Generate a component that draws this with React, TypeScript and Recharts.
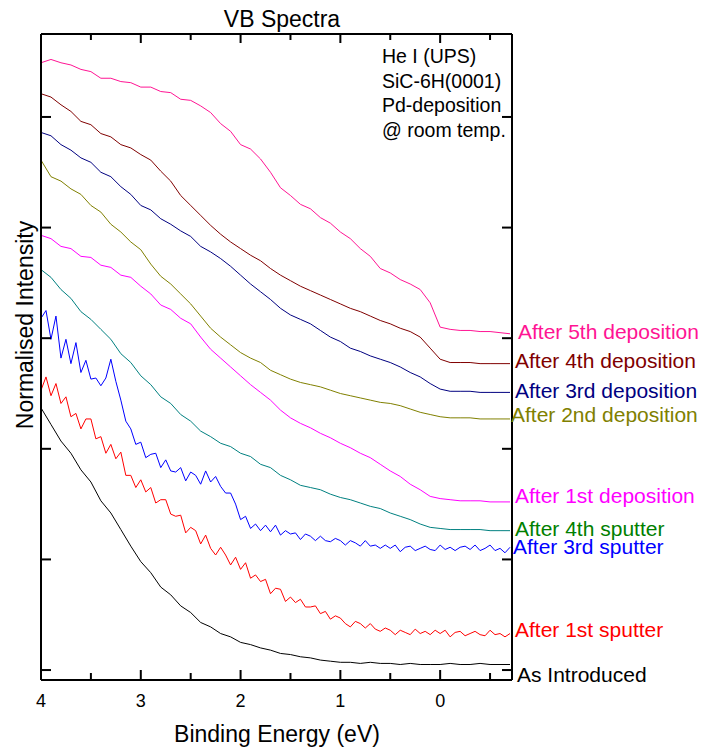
import { Line, LineChart, XAxis, YAxis } from "recharts";

// binding energy grids (eV)
const energy = [
  4.0, 3.9, 3.8, 3.7, 3.6, 3.5, 3.4, 3.3, 3.2, 3.1, 3.0, 2.9, 2.8, 2.7, 2.6, 2.5,
  2.4, 2.3, 2.2, 2.1, 2.0, 1.9, 1.8, 1.7, 1.6, 1.5, 1.4, 1.3, 1.2, 1.1, 1.0, 0.9,
  0.8, 0.7, 0.6, 0.5, 0.4, 0.3, 0.2, 0.1, 0.0, -0.1, -0.2, -0.3, -0.4, -0.5, -0.6, -0.7,
];

const energyFine = [
  4.0, 3.95, 3.9, 3.85, 3.8, 3.75, 3.7, 3.65, 3.6, 3.55, 3.5, 3.45, 3.4, 3.35, 3.3, 3.25,
  3.2, 3.15, 3.1, 3.05, 3.0, 2.95, 2.9, 2.85, 2.8, 2.75, 2.7, 2.65, 2.6, 2.55, 2.5, 2.45,
  2.4, 2.35, 2.3, 2.25, 2.2, 2.15, 2.1, 2.05, 2.0, 1.95, 1.9, 1.85, 1.8, 1.75, 1.7, 1.65,
  1.6, 1.55, 1.5, 1.45, 1.4, 1.35, 1.3, 1.25, 1.2, 1.15, 1.1, 1.05, 1.0, 0.95, 0.9, 0.85,
  0.8, 0.75, 0.7, 0.65, 0.6, 0.55, 0.5, 0.45, 0.4, 0.35, 0.3, 0.25, 0.2, 0.15, 0.1, 0.05,
  0.0, -0.05, -0.1, -0.15, -0.2, -0.25, -0.3, -0.35, -0.4, -0.45, -0.5, -0.55, -0.6, -0.65, -0.7,
];

// normalised intensity (offset stacked)
const fifthDeposition = [
  5.49, 5.52, 5.49, 5.47, 5.43, 5.41, 5.35, 5.35, 5.32, 5.31, 5.27, 5.27, 5.23, 5.22, 5.16, 5.15,
  5.1, 5.04, 4.94, 4.87, 4.75, 4.71, 4.62, 4.5, 4.36, 4.29, 4.21, 4.17, 4.09, 4.04, 3.96, 3.9,
  3.81, 3.74, 3.63, 3.59, 3.53, 3.49, 3.44, 3.32, 3.1, 3.08, 3.07, 3.07, 3.06, 3.06, 3.05, 3.04,
];

const fourthDeposition = [
  5.21, 5.18, 5.11, 5.05, 4.96, 4.93, 4.85, 4.82, 4.75, 4.72, 4.66, 4.61, 4.51, 4.42, 4.29, 4.2,
  4.11, 4.02, 3.94, 3.87, 3.81, 3.75, 3.7, 3.63, 3.57, 3.52, 3.47, 3.43, 3.39, 3.35, 3.31, 3.27,
  3.24, 3.2, 3.16, 3.13, 3.09, 3.06, 3.01, 2.91, 2.81, 2.78, 2.78, 2.78, 2.77, 2.77, 2.77, 2.77,
];

const thirdDeposition = [
  4.86, 4.83, 4.75, 4.7, 4.63, 4.59, 4.5, 4.46, 4.37, 4.3, 4.2, 4.16, 4.08, 4.03, 3.97, 3.92,
  3.83, 3.78, 3.72, 3.65, 3.57, 3.49, 3.42, 3.35, 3.27, 3.21, 3.17, 3.13, 3.07, 3.01, 2.97, 2.91,
  2.88, 2.84, 2.81, 2.78, 2.74, 2.69, 2.65, 2.59, 2.54, 2.52, 2.52, 2.52, 2.51, 2.51, 2.51, 2.51,
];

const secondDeposition = [
  4.61, 4.46, 4.42, 4.35, 4.3, 4.2, 4.14, 4.03, 3.96, 3.87, 3.8, 3.67, 3.56, 3.49, 3.4, 3.31,
  3.2, 3.09, 3.01, 2.94, 2.87, 2.82, 2.78, 2.71, 2.67, 2.63, 2.6, 2.58, 2.56, 2.53, 2.5, 2.48,
  2.46, 2.44, 2.42, 2.41, 2.39, 2.36, 2.33, 2.31, 2.29, 2.28, 2.28, 2.28, 2.27, 2.27, 2.27, 2.27,
];

const firstDeposition = [
  3.93, 3.9, 3.83, 3.81, 3.74, 3.73, 3.66, 3.64, 3.57, 3.55, 3.47, 3.4, 3.3, 3.26, 3.18, 3.13,
  3.01, 2.9, 2.82, 2.74, 2.66, 2.58, 2.51, 2.44, 2.35, 2.28, 2.23, 2.19, 2.14, 2.1, 2.05, 2.01,
  1.96, 1.92, 1.86, 1.8, 1.75, 1.68, 1.63, 1.57, 1.55, 1.54, 1.53, 1.53, 1.53, 1.52, 1.52, 1.52,
];

const fourthSputter = [
  3.62, 3.55, 3.44, 3.36, 3.24, 3.17, 3.08, 2.99, 2.86, 2.78, 2.66, 2.58, 2.47, 2.41, 2.31, 2.25,
  2.16, 2.11, 2.05, 2.02, 1.96, 1.93, 1.86, 1.83, 1.76, 1.72, 1.67, 1.65, 1.63, 1.59, 1.56, 1.54,
  1.51, 1.48, 1.46, 1.42, 1.39, 1.36, 1.32, 1.29, 1.28, 1.27, 1.27, 1.27, 1.27, 1.26, 1.26, 1.26,
];

const thirdSputter = [
  3.18, 3.25, 2.99, 3.2, 2.82, 2.99, 2.77, 2.96, 2.69, 2.8, 2.63, 2.64, 2.57, 2.64, 2.81, 2.61,
  2.44, 2.25, 2.18, 2.04, 2.06, 1.92, 1.95, 1.96, 1.83, 1.9, 1.8, 1.79, 1.83, 1.71, 1.79, 1.76,
  1.68, 1.8, 1.7, 1.75, 1.66, 1.6, 1.6, 1.5, 1.36, 1.39, 1.28, 1.32, 1.26, 1.31, 1.25, 1.31,
  1.22, 1.26, 1.23, 1.24, 1.18, 1.23, 1.21, 1.17, 1.21, 1.17, 1.16, 1.19, 1.17, 1.13, 1.17, 1.15,
  1.12, 1.17, 1.12, 1.13, 1.1, 1.13, 1.1, 1.13, 1.07, 1.11, 1.12, 1.08, 1.1, 1.12, 1.09, 1.08,
  1.13, 1.09, 1.11, 1.08, 1.11, 1.12, 1.09, 1.13, 1.08, 1.1, 1.13, 1.08, 1.1, 1.06, 1.11,
];

const firstSputter = [
  2.53, 2.65, 2.48, 2.59, 2.41, 2.47, 2.29, 2.32, 2.18, 2.27, 2.27, 2.09, 2.11, 1.96, 2.04, 1.91,
  1.97, 1.76, 1.76, 1.65, 1.72, 1.61, 1.65, 1.51, 1.54, 1.54, 1.41, 1.39, 1.4, 1.24, 1.29, 1.26,
  1.14, 1.22, 1.1, 1.04, 1.11, 1.04, 0.95, 1.02, 0.91, 0.97, 0.83, 0.86, 0.8, 0.82, 0.69, 0.74,
  0.73, 0.62, 0.66, 0.61, 0.64, 0.57, 0.57, 0.58, 0.51, 0.53, 0.46, 0.49, 0.47, 0.42, 0.39, 0.44,
  0.42, 0.38, 0.42, 0.37, 0.35, 0.38, 0.36, 0.32, 0.36, 0.34, 0.32, 0.37, 0.33, 0.35, 0.32, 0.36,
  0.33, 0.36, 0.3, 0.34, 0.35, 0.31, 0.33, 0.35, 0.32, 0.31, 0.36, 0.32, 0.33, 0.3, 0.33,
];

const asIntroduced = [
  2.37, 2.22, 2.07, 1.96, 1.81, 1.7, 1.53, 1.42, 1.27, 1.12, 0.98, 0.88, 0.75, 0.68, 0.58, 0.52,
  0.43, 0.39, 0.33, 0.3, 0.25, 0.23, 0.2, 0.18, 0.15, 0.14, 0.12, 0.11, 0.09, 0.08, 0.07, 0.07,
  0.06, 0.07, 0.06, 0.06, 0.05, 0.06, 0.05, 0.05, 0.05, 0.06, 0.05, 0.05, 0.06, 0.05, 0.05, 0.05,
];

const majorTicks = [4, 3, 2, 1, 0];
const minorTicks = [3.5, 2.5, 1.5, 0.5, -0.5];
const yTicks = [0, 1, 2, 3, 4, 5];

const FONT = "'Liberation Sans', Arial, sans-serif";
const X_DOMAIN: [number, number] = [-0.72, 4];
const Y_DOMAIN: [number, number] = [-0.09, 5.75];

// plot frame inside the 704x751 picture
const PLOT = { left: 41, top: 34, width: 471, height: 646 };

const series = [
  { name: "After 5th deposition", x: energy, y: fifthDeposition, color: "#ff1493" },
  { name: "After 4th deposition", x: energy, y: fourthDeposition, color: "#800000" },
  { name: "After 3rd deposition", x: energy, y: thirdDeposition, color: "#000080" },
  { name: "After 2nd deposition", x: energy, y: secondDeposition, color: "#808000" },
  { name: "After 1st deposition", x: energy, y: firstDeposition, color: "#ff00ff" },
  { name: "After 4th sputter", x: energy, y: fourthSputter, color: "#008080" },
  { name: "After 3rd sputter", x: energyFine, y: thirdSputter, color: "#0000ff" },
  { name: "After 1st sputter", x: energyFine, y: firstSputter, color: "#ff0000" },
  { name: "As Introduced", x: energy, y: asIntroduced, color: "#000000" },
];

// right-hand trace labels: text position and colour
const traceLabels = [
  { text: "After 5th deposition", x: 518, y: 339, color: "#ff1493" },
  { text: "After 4th deposition", x: 515, y: 368, color: "#800000" },
  { text: "After 3rd deposition", x: 515, y: 398, color: "#000080" },
  { text: "After 2nd deposition", x: 511, y: 422, color: "#808000" },
  { text: "After 1st deposition", x: 515, y: 503, color: "#ff00ff" },
  { text: "After 4th sputter", x: 515, y: 536, color: "#008000" },
  { text: "After 3rd sputter", x: 513, y: 554, color: "#0000ff" },
  { text: "After 1st sputter", x: 515, y: 637, color: "#ff0000" },
  { text: "As Introduced", x: 517, y: 682, color: "#000000" },
];

const notes = ["He I (UPS)", "SiC-6H(0001)", "Pd-deposition", "@ room temp."];

const axisStroke = { stroke: "#000", strokeWidth: 2 };

// inward tick marks for the y axes; dx is the direction into the plot
function yTick(dx: number) {
  return (props: any) => {
    const x = Number(props.x);
    const y = Number(props.y);
    return <path d={`M${x},${y}L${x + dx},${y}`} stroke="#000" strokeWidth={2} fill="none" />;
  };
}

function xLabel(props: any) {
  return (
    <text x={Number(props.x)} y={Number(props.y) + 27} textAnchor="middle" fontSize={18} fill="#000">
      {props.payload.value}
    </text>
  );
}

// pixel position of an energy on the reversed x axis (for the frame tick marks)
function energyToPx(e: number) {
  return PLOT.left + ((X_DOMAIN[1] - e) / (X_DOMAIN[1] - X_DOMAIN[0])) * PLOT.width;
}

function frameTicks(ticks: number[], bottomLen: number, topLen: number) {
  const bottom = PLOT.top + PLOT.height;
  return ticks.map((t) => {
    const x = energyToPx(t);
    return (
      <g key={t}>
        <rect x={x - 1} y={bottom - bottomLen} width={2} height={bottomLen} fill="#000" />
        <rect x={x - 1} y={PLOT.top} width={2} height={topLen} fill="#000" />
      </g>
    );
  });
}

export default function App() {
  return (
    <div
      style={{
        position: "absolute",
        left: 0,
        top: 0,
        width: 704,
        height: 751,
        background: "#fff",
        fontFamily: FONT,
      }}
    >
      <LineChart width={704} height={751} margin={{ top: 33, right: 191, bottom: 70, left: 40 }}>
        <XAxis
          xAxisId="bottom"
          type="number"
          dataKey="e"
          domain={X_DOMAIN}
          reversed
          allowDataOverflow
          ticks={majorTicks}
          interval={0}
          height={1}
          tickSize={0}
          tickMargin={0}
          axisLine={axisStroke}
          tickLine={false}
          tick={xLabel}
        />
        <XAxis
          xAxisId="top"
          orientation="top"
          type="number"
          domain={X_DOMAIN}
          reversed
          allowDataOverflow
          ticks={majorTicks}
          height={1}
          axisLine={axisStroke}
          tickLine={false}
          tick={false}
        />
        <YAxis
          yAxisId="left"
          type="number"
          domain={Y_DOMAIN}
          allowDataOverflow
          ticks={yTicks}
          interval={0}
          width={1}
          tickSize={0}
          tickMargin={0}
          axisLine={axisStroke}
          tickLine={false}
          tick={yTick(10)}
        />
        <YAxis
          yAxisId="right"
          orientation="right"
          type="number"
          domain={Y_DOMAIN}
          allowDataOverflow
          ticks={yTicks}
          interval={0}
          width={1}
          tickSize={0}
          tickMargin={0}
          axisLine={axisStroke}
          tickLine={false}
          tick={yTick(-10)}
        />
        {series.map((s) => (
          <Line
            key={s.name}
            xAxisId="bottom"
            yAxisId="left"
            data={s.x.map((e, i) => ({ e, v: s.y[i] }))}
            dataKey="v"
            type="linear"
            stroke={s.color}
            strokeWidth={1}
            dot={false}
            activeDot={false}
            isAnimationActive={false}
          />
        ))}
      </LineChart>
      <svg
        width={704}
        height={751}
        style={{ position: "absolute", left: 0, top: 0, pointerEvents: "none" }}
        fontFamily={FONT}
      >
        {frameTicks(majorTicks, 10, 9)}
        {frameTicks(minorTicks, 7, 6)}
        <text x={282} y={27} fontSize={23} textAnchor="middle" fill="#000">
          VB Spectra
        </text>
        <text x={277} y={742} fontSize={23} textAnchor="middle" fill="#000">
          Binding Energy (eV)
        </text>
        <text
          x={33}
          y={325}
          fontSize={23}
          textAnchor="middle"
          fill="#000"
          transform="rotate(-90 33 325)"
        >
          Normalised Intensity
        </text>
        {notes.map((n, i) => (
          <text key={n} x={382} y={63 + i * 24.6} fontSize={19.5} fill="#000">
            {n}
          </text>
        ))}
        {traceLabels.map((l) => (
          <text key={l.text} x={l.x} y={l.y} fontSize={21} fill={l.color}>
            {l.text}
          </text>
        ))}
      </svg>
    </div>
  );
}
